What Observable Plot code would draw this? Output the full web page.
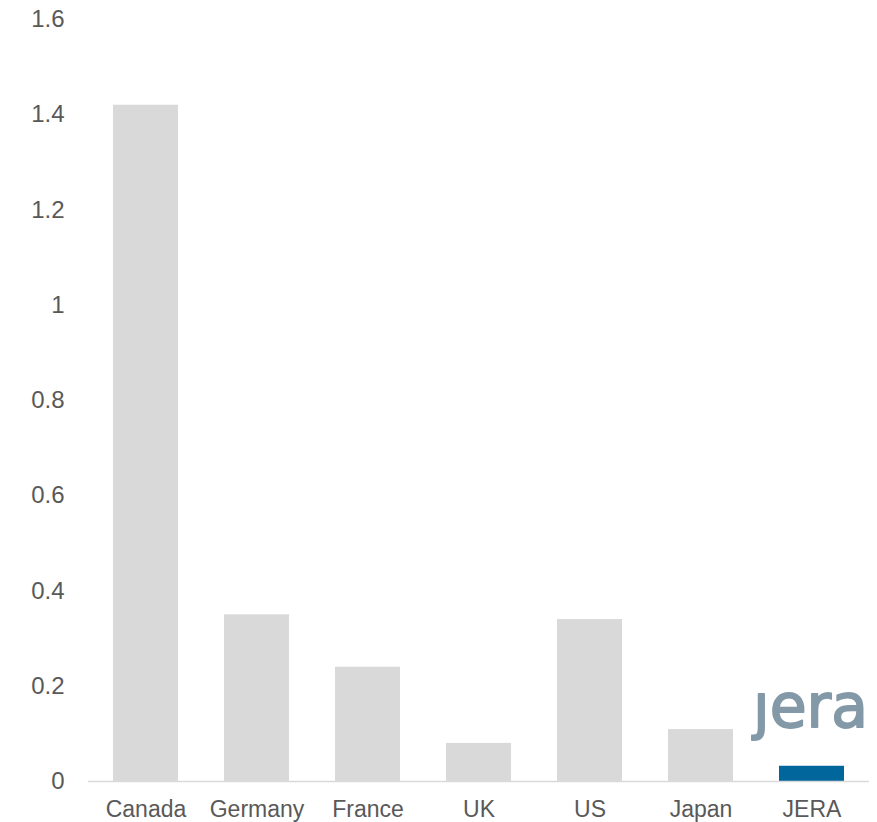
<!DOCTYPE html>
<html>
<head>
<meta charset="utf-8">
<script src="https://cdn.jsdelivr.net/npm/d3@7"></script>
<script src="https://cdn.jsdelivr.net/npm/@observablehq/plot@0.6"></script>
<style>
  html, body { margin: 0; padding: 0; background: #fff; }
  svg { display: block; }
</style>
</head>
<body>
<div id="chart"></div>
<script>
const categories = ["Canada", "Germany", "France", "UK", "US", "Japan", "JERA"];
const values = [1.42, 0.35, 0.24, 0.08, 0.34, 0.109, 0.032];
const highlight = "JERA";
const yTicks = [0, 0.2, 0.4, 0.6, 0.8, 1, 1.2, 1.4, 1.6];
const logoText = "\u0237era";

const data = categories.map((c, i) => ({ category: c, value: values[i] }));

const chart = Plot.plot({
  width: 877,
  height: 822,
  marginTop: 19,
  marginBottom: 41,
  marginLeft: 88,
  marginRight: 8,
  style: { fontFamily: "'Liberation Sans', Arial, sans-serif", fontSize: "23px", color: "#595959", background: "#fff" },
  x: { domain: categories, paddingInner: 0.41, paddingOuter: 0.205, label: null },
  y: { domain: [0, 1.6], label: null },
  marks: [
    Plot.axisX({ tickSize: 0, tickPadding: 19, fontSize: 23, fill: "#595959" }),
    Plot.axisY({ ticks: yTicks, tickFormat: d => String(d), tickSize: 0, tickPadding: 24, fontSize: 24, fill: "#595959" }),
    Plot.barY(data, { x: "category", y: "value", fill: d => d.category === highlight ? "#00669c" : "#d9d9d9" }),
    Plot.ruleY([0], { stroke: "#d9d9d9", strokeWidth: 1.5 }),
    Plot.text([highlight], { x: d => d, y: 0.155, text: () => logoText, fill: "#8499a8", stroke: "#8499a8", strokeWidth: 1.8, fontSize: 60, fontFamily: "'DejaVu Sans', sans-serif", dx: -1.5 })
  ]
});
document.getElementById("chart").appendChild(chart);
</script>
</body>
</html>
